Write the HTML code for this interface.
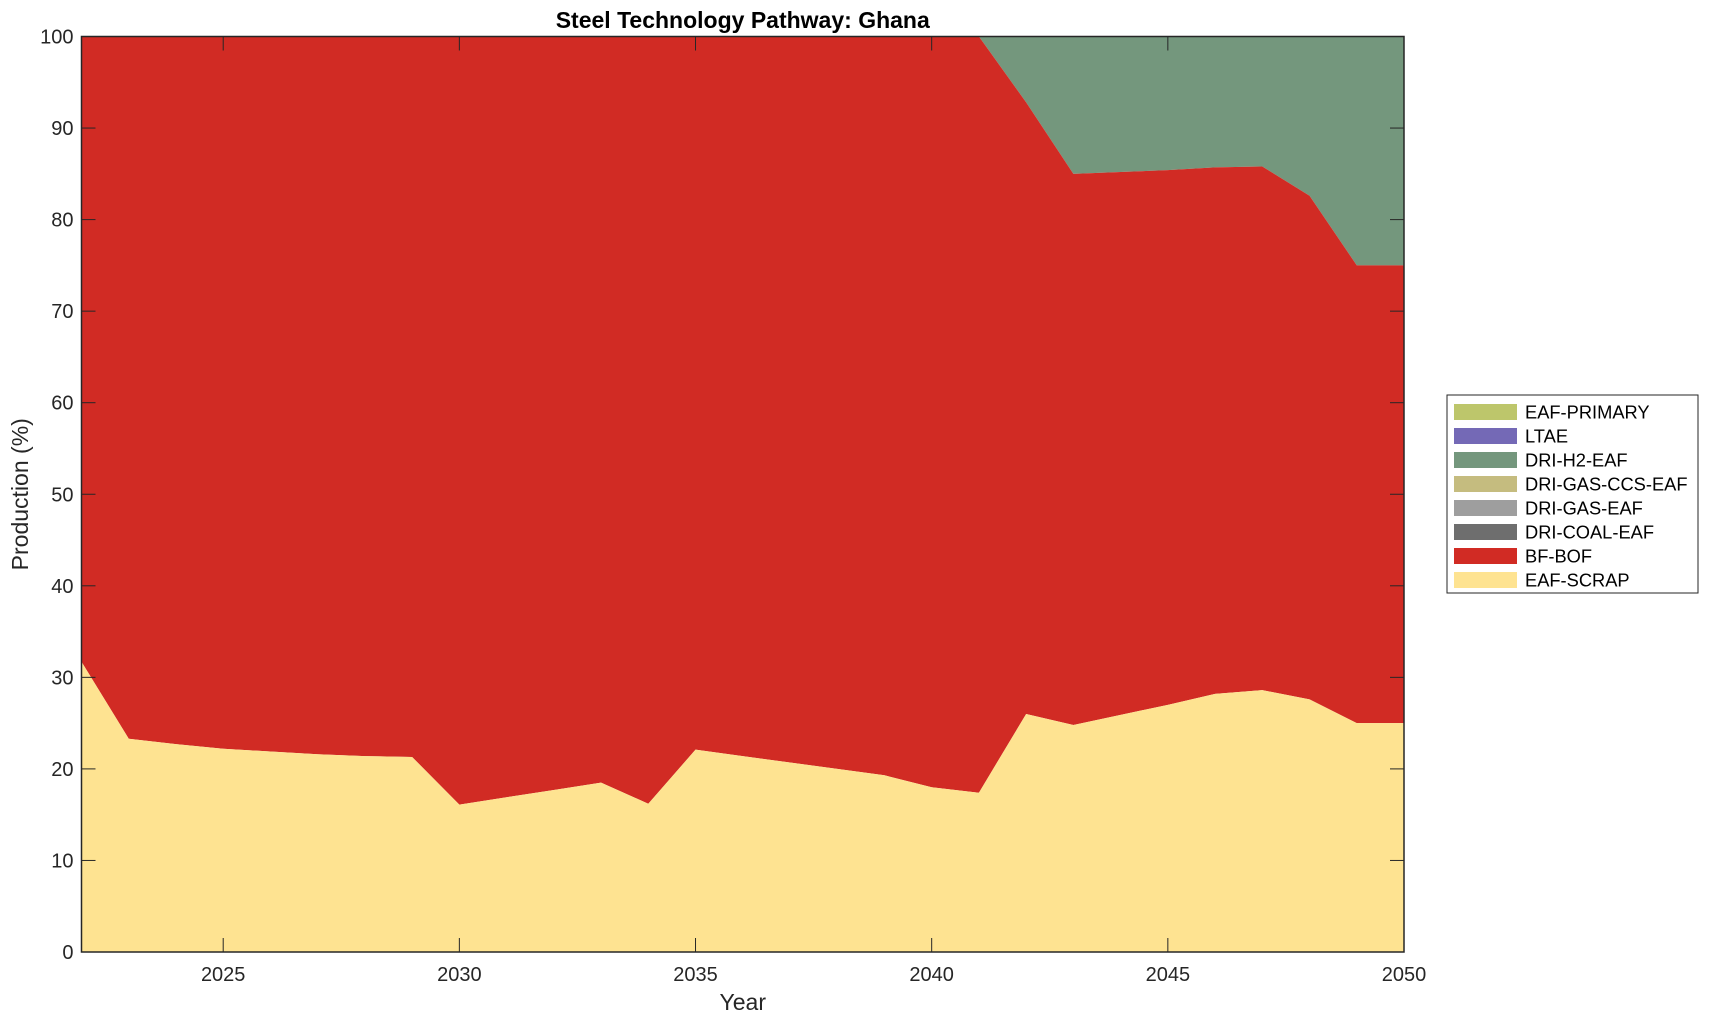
<!DOCTYPE html>
<html><head><meta charset="utf-8"><style>body{margin:0;background:#fff}svg{display:block;font-family:"Liberation Sans",Arial,sans-serif}</style></head>
<body>
<svg id="s" width="1709" height="1021" xmlns="http://www.w3.org/2000/svg"></svg>
<script>
const L=81.5,R=1404,T=36.5,B=952;
const X=y=>L+(y-2022)*(R-L)/28, Y=v=>B-v*(B-T)/100;
const yrs=[];for(let y=2022;y<=2050;y++)yrs.push(y);
const scrap=[31.7,23.3,22.7,22.2,21.9,21.6,21.4,21.3,16.1,16.9,17.7,18.5,16.2,22.1,21.4,20.7,20.0,19.3,18.0,17.4,26.0,24.8,25.9,27.0,28.2,28.6,27.6,25.0,25.0];
const bf=[100,100,100,100,100,100,100,100,100,100,100,100,100,100,100,100,100,100,100,100,92.8,85.0,85.2,85.4,85.7,85.8,82.6,75.0,75.0];
function poly(top,bot,c){let p=yrs.map((y,i)=>X(y)+","+Y(top[i]));for(let i=yrs.length-1;i>=0;i--)p.push(X(yrs[i])+","+Y(bot[i]));return `<polygon points="${p.join(" ")}" fill="${c}"/>`;}
const zero=yrs.map(()=>0),hund=yrs.map(()=>100);
let h=`<rect x="${L}" y="${T}" width="${R-L}" height="${B-T}" fill="#fff"/>`;
h+=poly(hund,bf,"#74977d");h+=poly(bf,scrap,"#d12b24");h+=poly(scrap,zero,"#fee391");
for(let v=0;v<=100;v+=10){const y=Y(v);h+=`<line x1="${L}" x2="${L+14}" y1="${y}" y2="${y}" stroke="#262626"/><line x1="${R}" x2="${R-14}" y1="${y}" y2="${y}" stroke="#262626"/><text x="${L-8}" y="${y+7}" font-size="20" text-anchor="end" fill="#262626">${v}</text>`;}
for(let yr=2025;yr<=2050;yr+=5){const x=X(yr);h+=`<line x1="${x}" x2="${x}" y1="${B}" y2="${B-14}" stroke="#262626"/><line x1="${x}" x2="${x}" y1="${T}" y2="${T+14}" stroke="#262626"/><text x="${x}" y="981" font-size="20" text-anchor="middle" fill="#262626">${yr}</text>`;}
h+=`<rect x="${L}" y="${T}" width="${R-L}" height="${B-T}" fill="none" stroke="#262626" stroke-width="1.5"/>`;
h+=`<text x="${(L+R)/2}" y="28" font-size="23" font-weight="bold" text-anchor="middle">Steel Technology Pathway: Ghana</text>`;
h+=`<text x="${(L+R)/2}" y="1010" font-size="23" text-anchor="middle" fill="#262626">Year</text>`;
h+=`<text transform="translate(28,${(T+B)/2}) rotate(-90)" font-size="23" text-anchor="middle" fill="#262626">Production (%)</text>`;
h+=`<rect x="1447" y="395" width="251" height="198" fill="#fff" stroke="#262626"/>`;
const lg=[["EAF-PRIMARY","#bdc66b"],["LTAE","#7469b6"],["DRI-H2-EAF","#74977d"],["DRI-GAS-CCS-EAF","#c5bc7f"],["DRI-GAS-EAF","#9e9e9e"],["DRI-COAL-EAF","#6e6e6e"],["BF-BOF","#d12b24"],["EAF-SCRAP","#fee391"]];
lg.forEach((e,i)=>{const cy=412+i*24;h+=`<rect x="1454" y="${cy-8}" width="63" height="16" fill="${e[1]}"/><text x="1525" y="${cy+6.5}" font-size="18.3" fill="#000">${e[0]}</text>`;});
document.getElementById("s").innerHTML=h;
</script>
</body></html>
